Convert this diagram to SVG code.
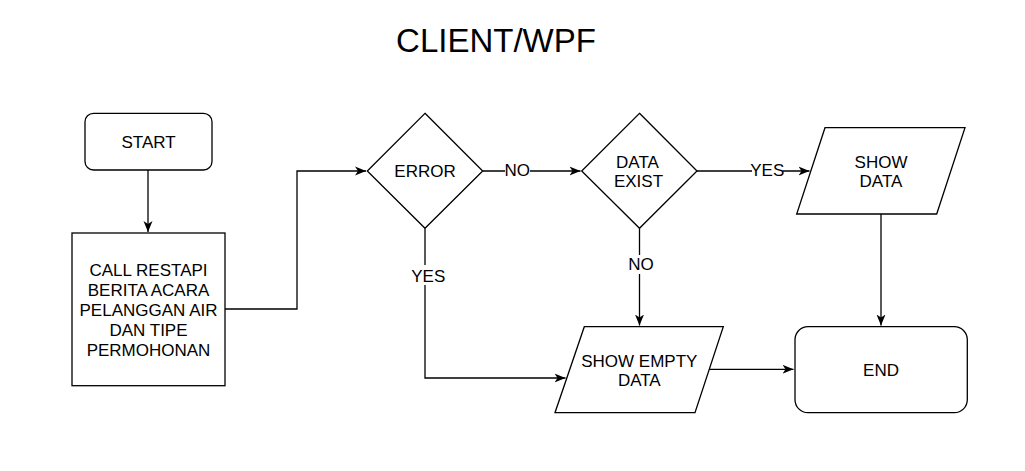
<svg xmlns="http://www.w3.org/2000/svg" width="1025" height="471" viewBox="0 0 1025 471">
<style>
.s{fill:#fff;stroke:#000;stroke-width:1.3}
.t{font-family:"Liberation Sans",Arial,sans-serif;font-size:17px;fill:#000;text-anchor:middle}
.e{fill:none;stroke:#000;stroke-width:1.3}
.lb{fill:#fff}
</style>
<defs>
<marker id="a" markerWidth="12" markerHeight="10" refX="11" refY="5" orient="auto" markerUnits="userSpaceOnUse">
<path d="M0,0.5 L11,5 L0,9.5 L3,5 Z" fill="#000"/>
</marker>
</defs>
<rect width="1025" height="471" fill="#fff"/>
<text x="496" y="52" style="font-family:'Liberation Sans',Arial,sans-serif;font-size:33px;text-anchor:middle">CLIENT/WPF</text>
<g id="edges">
<path class="e" d="M148,170 V232" marker-end="url(#a)"/>
<path class="e" d="M225,309 H297 V171 H366" marker-end="url(#a)"/>
<path class="e" d="M483,171 H580.5" marker-end="url(#a)"/>
<path class="e" d="M697,171 H809.5" marker-end="url(#a)"/>
<path class="e" d="M425,228.5 V378 H565.5" marker-end="url(#a)"/>
<path class="e" d="M639.5,228.5 V325.5" marker-end="url(#a)"/>
<path class="e" d="M881,214 V325.5" marker-end="url(#a)"/>
<path class="e" d="M709.5,369.3 H793.5" marker-end="url(#a)"/>
<rect class="lb" x="505" y="162" width="25" height="17"/>
<text class="t" x="517.3" y="175.7">NO</text>
<rect class="lb" x="752" y="162" width="31" height="17"/>
<text class="t" x="767.3" y="176">YES</text>
<rect class="lb" x="412" y="265" width="32" height="20"/>
<text class="t" x="428.3" y="281.7">YES</text>
<rect class="lb" x="629" y="255" width="25" height="19"/>
<text class="t" x="641" y="270">NO</text>
</g>
<g id="start">
<rect class="s" x="85" y="113.3" width="127" height="56.7" rx="8.5"/>
<text class="t" x="148.5" y="148.3">START</text>
</g>
<g id="call">
<rect class="s" x="72" y="233" width="153" height="152.7"/>
<text class="t" x="148.5" y="275.7">CALL RESTAPI</text>
<text class="t" x="148.5" y="295.7">BERITA ACARA</text>
<text class="t" x="148.5" y="315.7">PELANGGAN AIR</text>
<text class="t" x="148.5" y="335.7">DAN TIPE</text>
<text class="t" x="148.5" y="355.7">PERMOHONAN</text>
</g>
<g id="error">
<path class="s" d="M425,113.3 L482.7,171 L425,228.3 L367.3,171 Z"/>
<text class="t" x="425" y="177.3">ERROR</text>
</g>
<g id="dataexist">
<path class="s" d="M639.5,113.3 L697,171 L639.5,228.3 L581.7,171 Z"/>
<text class="t" x="637.5" y="167.7">DATA</text>
<text class="t" x="638.5" y="187.3">EXIST</text>
</g>
<g id="showdata">
<path class="s" d="M825,127.7 H965 L936.7,214 H796.7 Z"/>
<text class="t" x="881" y="167.7">SHOW</text>
<text class="t" x="881" y="187.3">DATA</text>
</g>
<g id="showempty">
<path class="s" d="M584.3,326.7 H723.3 L695,412.7 H555 Z"/>
<text class="t" x="639.3" y="366.7">SHOW EMPTY</text>
<text class="t" x="639.3" y="386">DATA</text>
</g>
<g id="end">
<rect class="s" x="795" y="326.7" width="172.3" height="86" rx="13"/>
<text class="t" x="881" y="376">END</text>
</g>
</svg>
